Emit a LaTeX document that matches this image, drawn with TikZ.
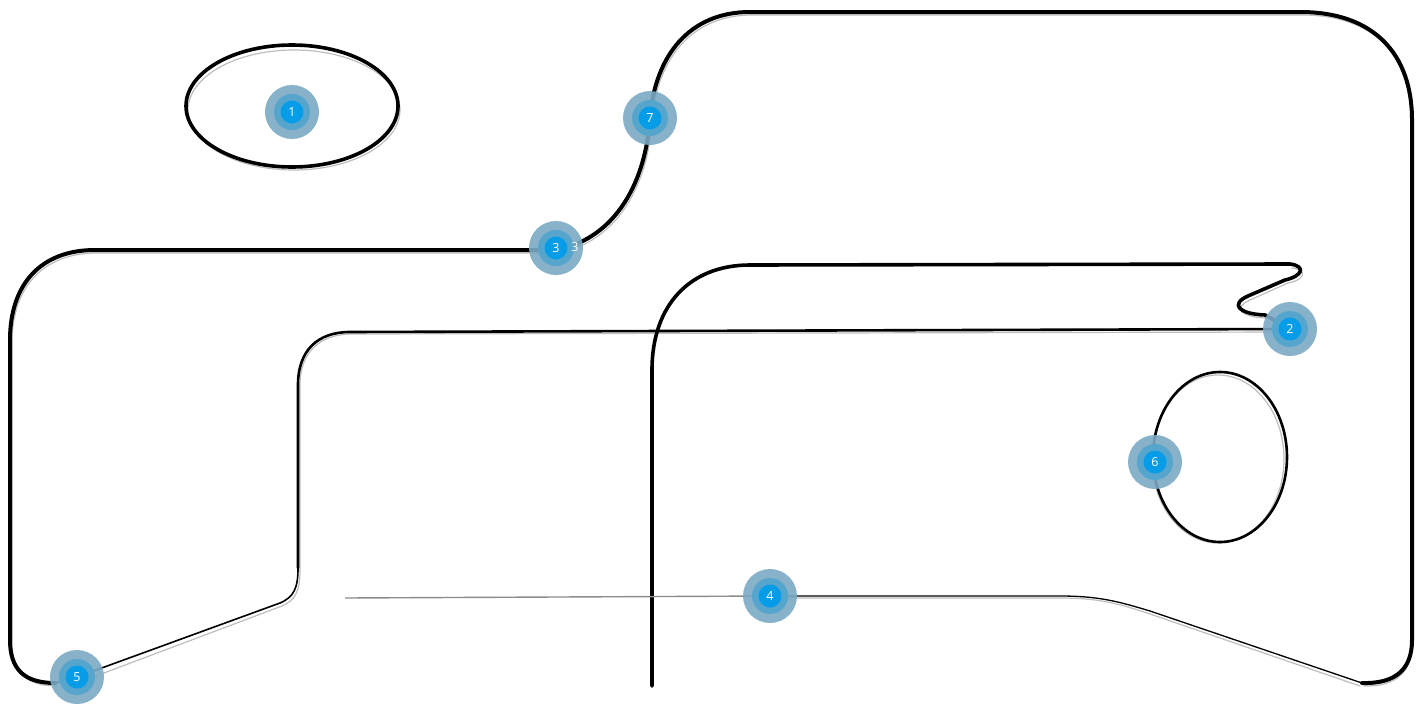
\documentclass[tikz,border=0pt]{standalone}
\usepackage{fontspec}
\setsansfont{Open Sans}
\definecolor{badgeA}{RGB}{122,170,196}
\definecolor{badgeB}{RGB}{86,165,205}
\definecolor{badgeC}{RGB}{6,156,232}
\definecolor{shade}{RGB}{190,190,190}
\tikzset{
  ink/.style={draw=black, line cap=round, line join=round},
  thick ink/.style={ink, line width=4},
  mid ink/.style={ink, line width=2.6},
  thin ink/.style={ink, line width=1.6},
  shadowline/.style={draw=shade, line width=1.2, line cap=round, line join=round},
  ring1/.style={circle, fill=badgeA, fill opacity=0.9, minimum size=54, inner sep=0},
  ring2/.style={circle, fill=badgeB, minimum size=36, inner sep=0},
  ring3/.style={circle, fill=badgeC, minimum size=23, inner sep=0, text=white,
    font=\sffamily\fontsize{12.5}{13}\selectfont},
}
\newcommand\mybadge[3]{%
  \node[ring1] (#1o) at (#2) {};
  \node[ring2] (#1m) at (#2) {};
  \node[ring3] (#1) at (#2) {#3};
}
\begin{document}
\begin{tikzpicture}[x=1pt,y=-1pt]
\useasboundingbox (0,0) rectangle (1422,704);
\fill[white] (0,0) rectangle (1422,704);

% ---- ellipse 1
\draw[shadowline] (294,110) ellipse [x radius=106, y radius=60];
\draw[thick ink, line width=3.6] (292,106) ellipse [x radius=106, y radius=61];

% ---- ellipse 6
\draw[shadowline] (1218,459) ellipse [x radius=66, y radius=84];
\draw[mid ink] (1220,457) ellipse [x radius=67, y radius=85];

% ---- outer outline (shadow)
\begin{scope}[shift={(2,3)}]
\draw[shadowline] (55,683) .. controls (25,683) and (10,670) .. (10,640)
  -- (10,340) .. controls (10,285) and (40,250) .. (95,250)
  -- (556,250) .. controls (610,240) and (645,190) .. (650,118)
  .. controls (655,55) and (690,12) .. (750,12)
  -- (1300,12) .. controls (1375,12) and (1410,55) .. (1410,120)
  -- (1410,640) .. controls (1410,668) and (1395,684) .. (1362,683);
\end{scope}
% ---- outer outline
\draw[thick ink] (55,683) .. controls (25,683) and (10,670) .. (10,640)
  -- (10,340) .. controls (10,285) and (40,250) .. (95,250)
  -- (556,250) .. controls (610,240) and (645,190) .. (650,118)
  .. controls (655,55) and (690,12) .. (750,12)
  -- (1300,12) .. controls (1375,12) and (1412,55) .. (1412,120)
  -- (1412,640) .. controls (1412,668) and (1397,684) .. (1362,683);

% ---- inner path from 5 to 2
\draw[shadowline] (80,682) -- (282,606) .. controls (296,600) and (300,590) .. (300,570)
  -- (300,385) .. controls (300,352) and (320,334) .. (352,334) -- (1290,332);
\draw[thin ink] (55,683) -- (77,677) -- (280,603)
  .. controls (294,597) and (298,588) .. (298,568);
\draw[mid ink] (298,568) -- (298,385) .. controls (298,350) and (318,332) .. (350,332)
  -- (1290,329);

% ---- path from bottom to squiggle
\draw[shadowline] (1292,268) .. controls (1308,270) and (1305,280) .. (1288,283)
  -- (1250,300) .. controls (1232,308) and (1242,318) .. (1268,318);
\draw[thick ink, line width=3.6] (652,686) -- (652,370)
  .. controls (652,305) and (690,265) .. (750,265)
  -- (1290,264) .. controls (1306,266) and (1303,276) .. (1285,280)
  -- (1248,296) .. controls (1230,304) and (1238,314) .. (1265,315)
  -- (1290,329);

% ---- line 4
\draw[draw=black!45, line width=1.4] (345,598) -- (770,596);
\draw[shadowline] (770,598) -- (1060,598) .. controls (1100,598) and (1120,604) .. (1150,614)
  -- (1360,686);
\draw[ink, line width=1.3] (770,596) -- (1060,596)
  .. controls (1100,596) and (1120,602) .. (1150,611) -- (1362,683);

% ---- badges
\mybadge{b1}{292,112}{1}
\mybadge{b2}{1290,329}{2}
\mybadge{b3}{556,248}{3}
\node[text=white, font=\sffamily\fontsize{12.5}{13}\selectfont, inner sep=0] (b3x) at (575,247) {3};
\mybadge{b4}{770,596}{4}
\mybadge{b5}{77,677}{5}
\mybadge{b6}{1155,462}{6}
\mybadge{b7}{650,118}{7}
\end{tikzpicture}
\end{document}
